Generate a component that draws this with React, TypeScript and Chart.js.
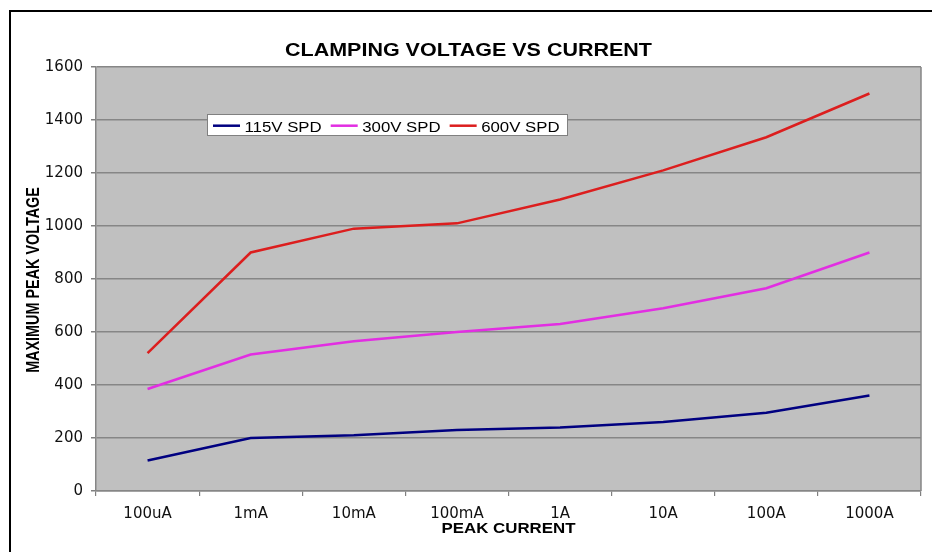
import React, { useEffect, useRef } from "react";
import { Chart, registerables } from "chart.js";

Chart.register(...registerables);

// ---- data ----
const categories = ["100uA", "1mA", "10mA", "100mA", "1A", "10A", "100A", "1000A"];
const seriesLabels = ["115V SPD", "300V SPD", "600V SPD"];
const v115 = [115, 200, 210, 230, 240, 260, 295, 360];
const v300 = [385, 515, 565, 600, 630, 690, 765, 900];
const v600 = [520, 900, 990, 1010, 1100, 1210, 1335, 1500];
const yMin = 0;
const yMax = 1600;
const yStep = 200;
const chartTitle = "CLAMPING VOLTAGE VS CURRENT";
const xTitle = "PEAK CURRENT";
const yTitle = "MAXIMUM PEAK VOLTAGE";
const seriesColors = ["#000080", "#e22ee2", "#dc1e1e"];

const ARIAL = "'Liberation Sans', Arial, sans-serif";

function stretchedText(
  ctx: CanvasRenderingContext2D,
  text: string,
  x: number,
  baseline: number,
  font: string,
  targetWidth: number,
  align: "left" | "center"
) {
  ctx.save();
  ctx.font = font;
  ctx.textAlign = "left";
  ctx.textBaseline = "alphabetic";
  const w = ctx.measureText(text).width;
  const sx = targetWidth / w;
  const left = align === "center" ? x - targetWidth / 2 : x;
  ctx.translate(left, baseline);
  ctx.scale(sx, 1);
  ctx.fillText(text, 0, 0);
  ctx.restore();
  return targetWidth;
}

const decorPlugin = {
  id: "decor",
  beforeDraw(chart: any) {
    const { ctx, chartArea: a } = chart;
    ctx.save();
    ctx.fillStyle = "#ffffff";
    ctx.fillRect(0, 0, chart.width, chart.height);
    ctx.fillStyle = "#c0c0c0";
    ctx.fillRect(a.left, a.top, a.right - a.left, a.bottom - a.top);
    // outer frame (extends past the right and bottom edges)
    ctx.strokeStyle = "#000";
    ctx.lineWidth = 2;
    ctx.beginPath();
    ctx.moveTo(10, chart.height + 4);
    ctx.lineTo(10, 11);
    ctx.lineTo(chart.width + 4, 11);
    ctx.stroke();
    ctx.restore();
  },
  beforeDatasetsDraw(chart: any) {
    const { ctx, chartArea: a } = chart;
    ctx.save();
    ctx.strokeStyle = "#868686";
    ctx.lineWidth = 1.5;
    ctx.beginPath();
    ctx.moveTo(a.right, a.top);
    ctx.lineTo(a.right, a.bottom);
    ctx.stroke();
    ctx.restore();
  },
  afterDraw(chart: any) {
    const { ctx, chartArea: a } = chart;
    ctx.save();
    ctx.fillStyle = "#000";
    // chart title
    stretchedText(ctx, chartTitle, 468.5, 56, `bold 17.7px ${ARIAL}`, 367, "center");
    // x axis title
    stretchedText(ctx, xTitle, (a.left + a.right) / 2, 533.3, `bold 15px ${ARIAL}`, 134, "center");
    // y axis title (rotated)
    ctx.save();
    const yFont = 14.4;
    ctx.font = `bold ${yFont}px ${ARIAL}`;
    const capH = 0.716 * yFont;
    ctx.translate(32, (a.top + a.bottom) / 2 + 1);
    ctx.rotate(-Math.PI / 2);
    ctx.scale(1, 1.3);
    ctx.textAlign = "center";
    ctx.textBaseline = "alphabetic";
    ctx.fillText(yTitle, 0, capH / 2);
    ctx.restore();

    // legend box
    const bx = a.left + 111.5;
    const by = a.top + 47.5;
    const bw = 360;
    const bh = 21;
    ctx.fillStyle = "#ffffff";
    ctx.fillRect(bx, by, bw, bh);
    ctx.strokeStyle = "#808080";
    ctx.lineWidth = 1;
    ctx.strokeRect(bx, by, bw, bh);
    let x = bx + 5.5;
    const lineY = by + 11.2;
    const textBase = by + 17;
    chart.data.datasets.forEach((ds: any) => {
      ctx.strokeStyle = ds.borderColor;
      ctx.lineWidth = 2.5;
      ctx.beginPath();
      ctx.moveTo(x, lineY);
      ctx.lineTo(x + 27, lineY);
      ctx.stroke();
      ctx.fillStyle = "#000";
      ctx.font = `14px ${ARIAL}`;
      const w = ctx.measureText(ds.label).width * 1.2;
      stretchedText(ctx, ds.label, x + 31.5, textBase, `14px ${ARIAL}`, w, "left");
      x = x + 31.5 + w + 9;
    });
    ctx.restore();
  },
};

export default function App() {
  const ref = useRef<HTMLCanvasElement>(null);

  useEffect(() => {
    if (!ref.current) return;
    const values = [v115, v300, v600];
    const chart = new Chart(ref.current, {
      type: "line",
      data: {
        labels: categories,
        datasets: values.map((v, i) => ({
          label: seriesLabels[i],
          data: v,
          borderColor: seriesColors[i],
          backgroundColor: seriesColors[i],
          borderWidth: 2.5,
          pointRadius: 0,
          tension: 0,
          fill: false,
        })),
      },
      options: {
        responsive: false,
        animation: false,
        devicePixelRatio: 1,
        layout: { padding: { left: 0, top: 67, right: 11, bottom: 0 } },
        plugins: {
          legend: { display: false },
          title: { display: false },
          tooltip: { enabled: false },
        },
        scales: {
          x: {
            type: "category",
            offset: true,
            grid: {
              offset: true,
              drawOnChartArea: false,
              drawTicks: true,
              tickLength: 5,
              tickColor: "#808080",
              lineWidth: 1.2,
            },
            border: { color: "#868686", width: 1.5 },
            ticks: {
              font: { family: "'DejaVu Sans'", size: 15 },
              color: "#111",
              padding: 9,
              maxRotation: 0,
              autoSkip: false,
            },
            afterFit: (s: any) => {
              s.height = 61;
            },
          },
          y: {
            min: yMin,
            max: yMax,
            ticks: {
              stepSize: yStep,
              font: { family: "'DejaVu Sans'", size: 15 },
              color: "#111",
              padding: 8,
              callback: (v: any) => String(v),
            },
            grid: {
              color: "#868686",
              lineWidth: 1.5,
              tickLength: 5,
              tickColor: "#808080",
            },
            border: { color: "#868686", width: 1.5 },
            afterFit: (s: any) => {
              s.width = 96;
            },
          },
        },
      },
      plugins: [decorPlugin],
    } as any);
    return () => chart.destroy();
  }, []);

  return (
    <div
      style={{
        position: "absolute",
        left: 0,
        top: 0,
        width: 932,
        height: 552,
        overflow: "hidden",
        background: "#fff",
      }}
    >
      <canvas ref={ref} width={932} height={552} style={{ display: "block", width: 932, height: 552 }} />
    </div>
  );
}
